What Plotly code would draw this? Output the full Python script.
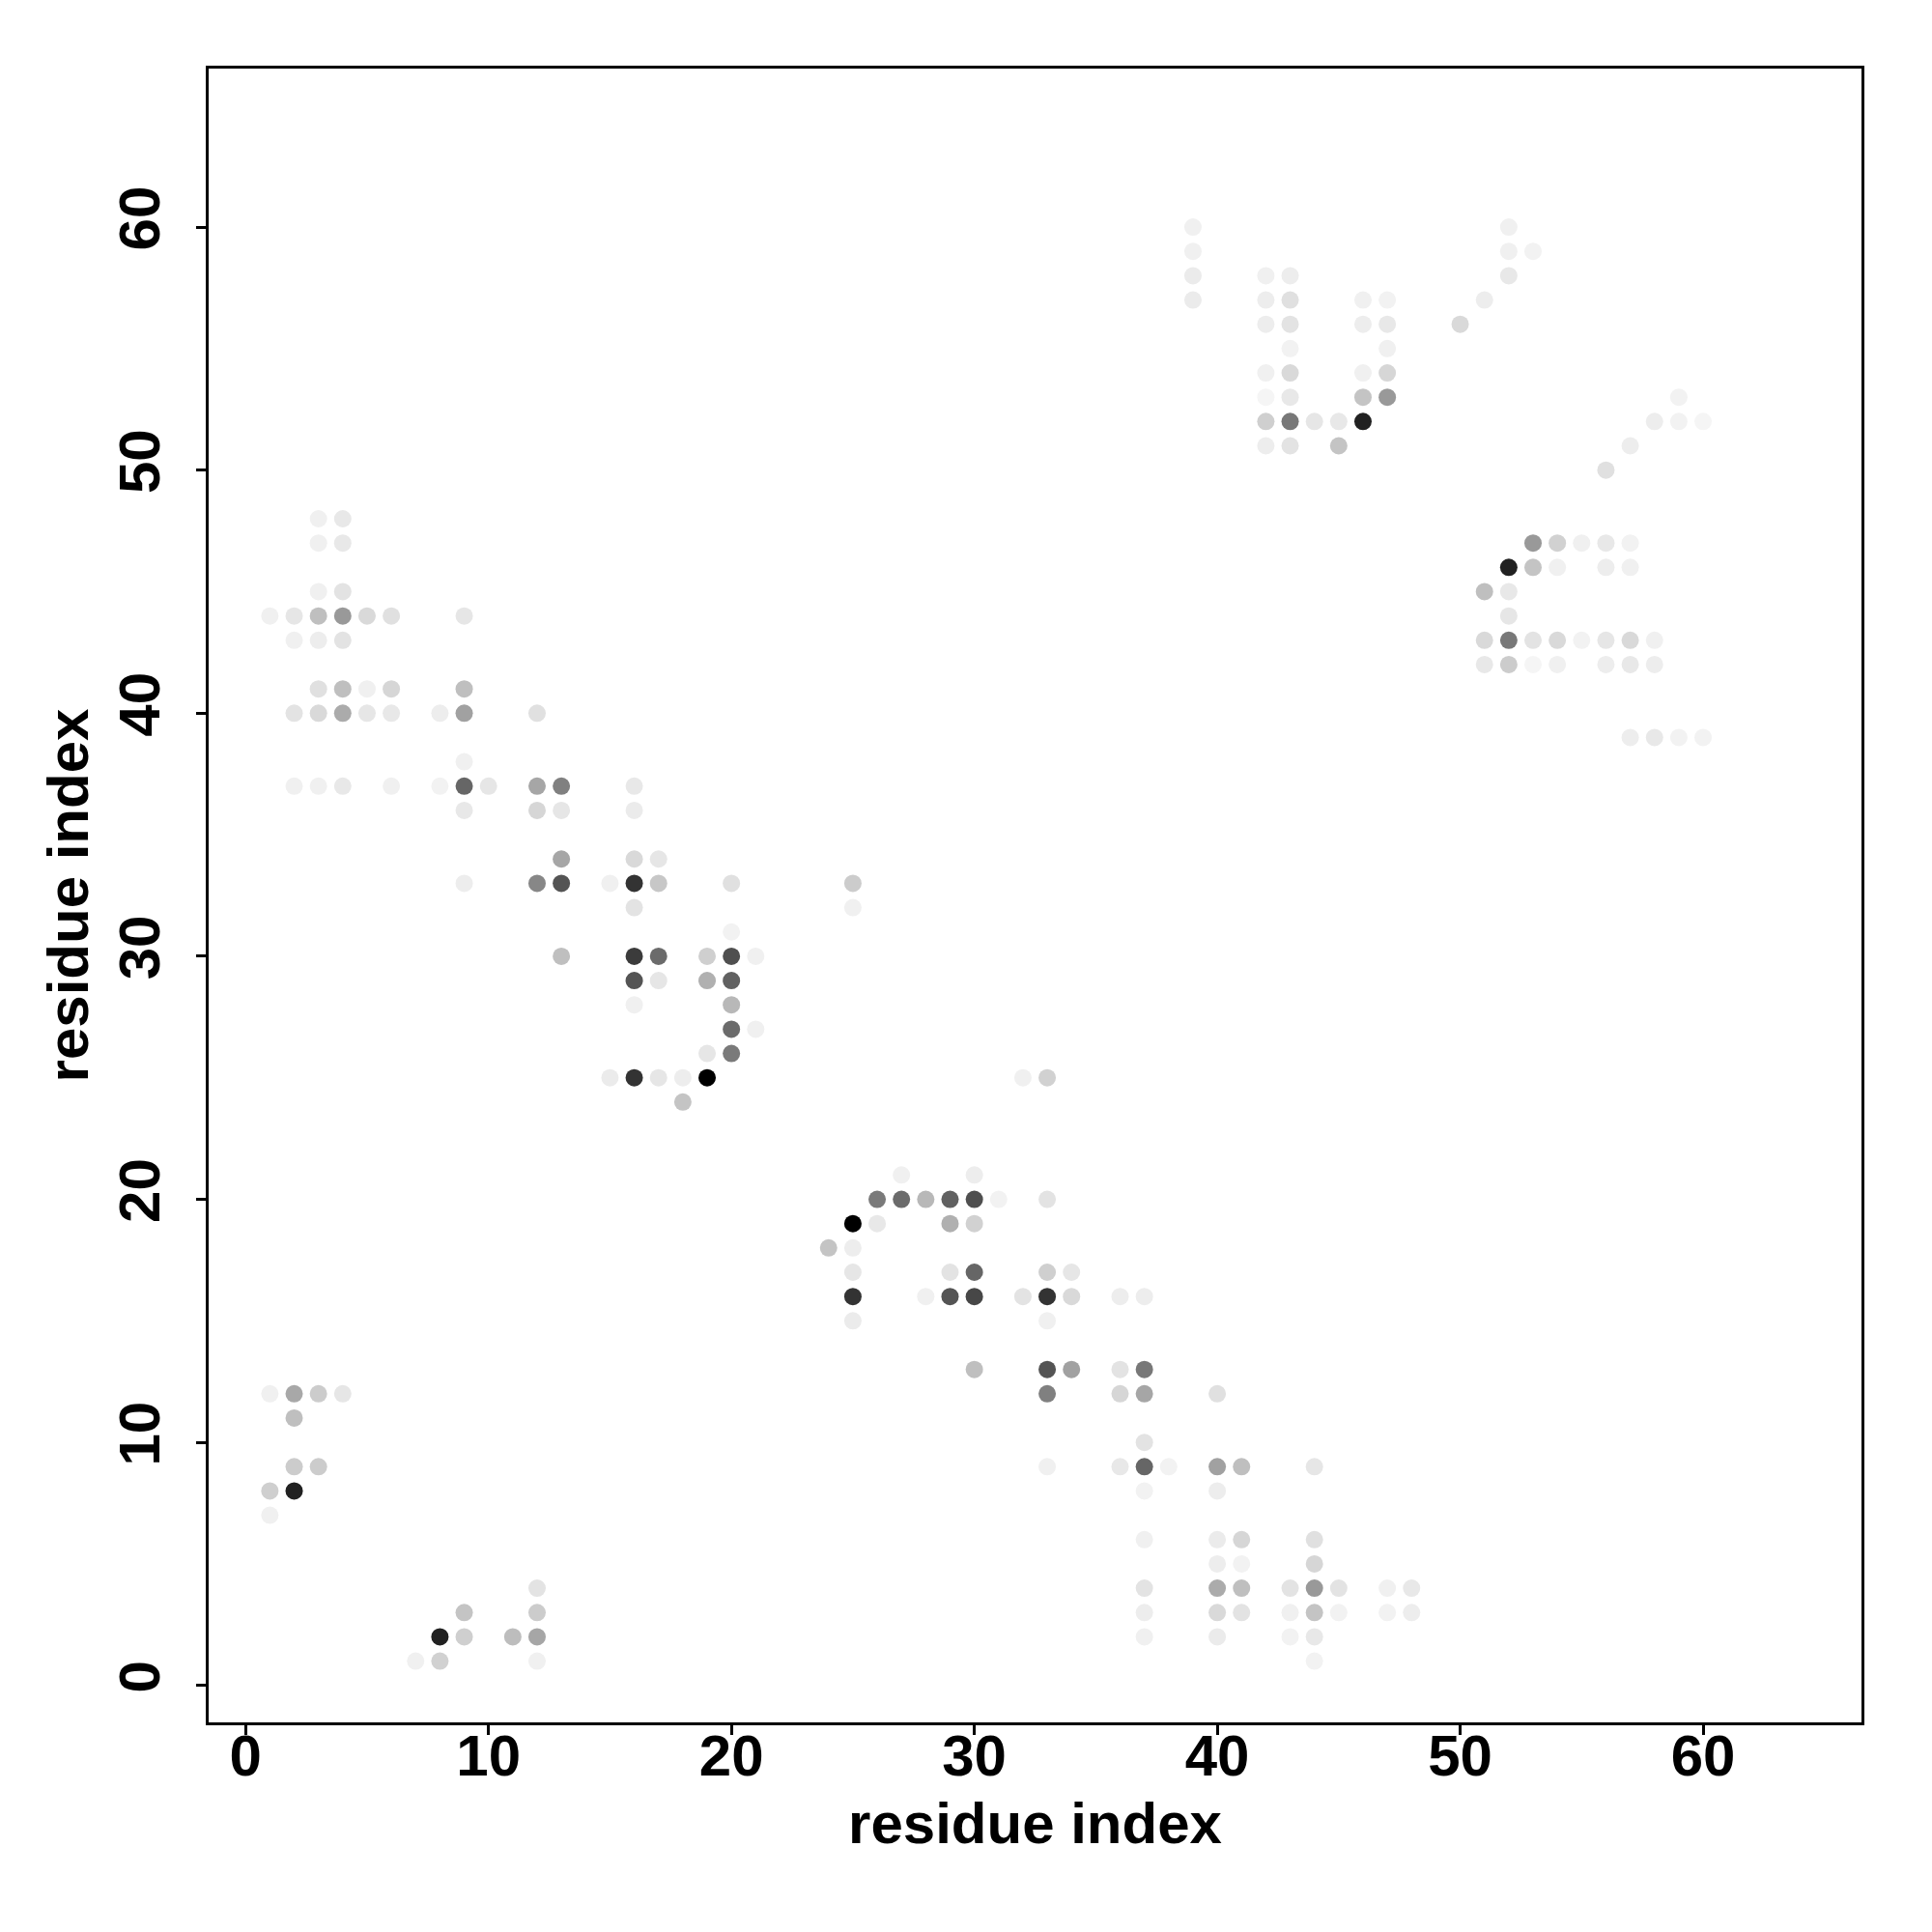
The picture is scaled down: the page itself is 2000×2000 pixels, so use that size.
import plotly.graph_objects as go

# residue pairs (i, j) and contact probability
res_i = [
    1, 2, 3, 4, 2, 2, 3, 1, 2, 1, 7, 8, 8, 9, 9, 11, 12, 12, 12, 12,
    3, 4, 3, 4, 3, 4, 1, 2, 3, 4, 5, 6, 9, 2, 3, 4,
    3, 4, 5, 6, 9, 2, 3, 4, 5, 6, 8, 9, 12, 9,
    2, 3, 4, 6, 8, 9, 10, 12, 13, 9, 12, 13, 9, 12, 13, 13, 13,
    16, 16, 16, 17, 15, 16, 17, 20, 16, 20,
    16, 17, 19, 20, 21, 16, 17, 19, 20,
    16, 20, 20, 21, 19, 20, 15, 16, 17, 18, 19, 18,
    25, 25, 32, 33,
    27, 30, 26, 27, 28, 29, 30, 31, 33, 25, 26, 29, 30, 24, 25,
    25, 29, 30, 33, 34, 25, 28, 29, 30, 32, 33, 34, 36, 37, 25, 33,
    30, 33, 34, 36, 37, 33, 36, 37, 40, 37,
    33, 36, 37, 38, 40, 41, 44,
    37, 40, 37, 40, 41, 44, 40, 41, 44,
    37, 40, 41, 43, 44, 45, 47, 48,
    37, 40, 41, 43, 44, 45, 47, 48,
    37, 40, 43, 44, 44,
    39, 39, 39, 39, 42, 43, 42, 43, 46, 47, 42, 43, 46, 47, 43, 47,
    42, 43, 46, 47, 42, 43, 46, 47, 42, 43, 44, 45, 46, 42, 43, 45,
    52, 52, 53, 52, 51, 50, 59, 58, 59, 60, 57, 56,
    53, 54, 55, 56, 57, 52, 53, 54, 56, 57, 51, 52, 52,
    51, 52, 53, 54, 55, 56, 57, 58, 51, 52, 53, 54, 56, 57, 58,
    57, 58, 59, 60,
]
res_j = [
    12, 12, 12, 12, 11, 9, 9, 8, 8, 7, 1, 1, 2, 2, 3, 2, 2, 3, 4, 1,
    48, 48, 47, 47, 45, 45, 44, 44, 44, 44, 44, 44, 44, 43, 43, 43,
    41, 41, 41, 41, 41, 40, 40, 40, 40, 40, 40, 40, 40, 38,
    37, 37, 37, 37, 37, 37, 37, 37, 37, 36, 36, 36, 33, 33, 33, 34, 30,
    37, 36, 34, 34, 33, 33, 33, 33, 32, 31,
    30, 30, 30, 30, 30, 29, 29, 29, 29,
    28, 28, 27, 27, 26, 26, 25, 25, 25, 25, 25, 24,
    33, 32, 25, 25,
    21, 21, 20, 20, 20, 20, 20, 20, 20, 19, 19, 19, 19, 18, 18,
    17, 17, 17, 17, 17, 16, 16, 16, 16, 16, 16, 16, 16, 16, 15, 15,
    13, 13, 13, 13, 13, 12, 12, 12, 12, 10,
    9, 9, 9, 9, 9, 9, 9,
    8, 8, 6, 6, 6, 6, 5, 5, 5,
    4, 4, 4, 4, 4, 4, 4, 4,
    3, 3, 3, 3, 3, 3, 3, 3,
    2, 2, 2, 2, 1,
    60, 59, 58, 57, 58, 58, 57, 57, 57, 57, 56, 56, 56, 56, 55, 55,
    54, 54, 54, 54, 53, 53, 53, 53, 52, 52, 52, 52, 52, 51, 51, 51,
    60, 59, 59, 58, 57, 56, 53, 52, 52, 52, 51, 50,
    47, 47, 47, 47, 47, 46, 46, 46, 46, 46, 45, 45, 44,
    43, 43, 43, 43, 43, 43, 43, 43, 42, 42, 42, 42, 42, 42, 42,
    39, 39, 39, 39,
]
contact_prob = [
    .06, .34, .20, .10, .25, .20, .20, .19, .87, .06, .06, .18, .87, .19, .23, .26, .35, .20, .11, .06,
    .06, .09, .06, .09, .06, .11, .06, .10, .25, .40, .15, .12, .10, .06, .07, .11,
    .12, .25, .06, .16, .25, .11, .15, .33, .10, .09, .07, .37, .12, .06,
    .06, .06, .09, .06, .05, .60, .10, .35, .50, .09, .16, .10, .07, .47, .67, .35, .25,
    .09, .08, .15, .10, .06, .80, .22, .12, .11, .05,
    .77, .58, .19, .69, .06, .67, .10, .31, .62,
    .06, .28, .58, .06, .10, .52, .08, .80, .10, .07, 1.0, .23,
    .20, .06, .06, .18,
    .06, .07, .52, .58, .28, .62, .69, .05, .11, 1.0, .09, .31, .18, .23, .07,
    .10, .11, .60, .19, .10, .80, .06, .67, .72, .11, .80, .15, .07, .07, .08, .06,
    .25, .67, .37, .11, .53, .50, .16, .35, .12, .11,
    .06, .09, .60, .05, .37, .25, .10,
    .05, .07, .06, .08, .16, .12, .07, .05, .16,
    .11, .33, .25, .11, .40, .11, .06, .09,
    .07, .15, .11, .06, .23, .05, .05, .07,
    .06, .08, .05, .09, .05,
    .06, .06, .08, .08, .06, .07, .07, .12, .06, .05, .07, .11, .07, .09, .05, .06,
    .06, .15, .06, .16, .04, .09, .23, .40, .19, .53, .10, .09, .87, .07, .11, .23,
    .06, .06, .05, .09, .07, .15, .05, .07, .05, .04, .07, .12,
    .40, .18, .06, .09, .05, .87, .23, .06, .07, .06, .25, .09, .10,
    .15, .53, .11, .15, .05, .10, .15, .06, .09, .20, .04, .06, .07, .09, .07,
    .07, .09, .05, .05,
]

tick_vals = [0, 10, 20, 30, 40, 50, 60]
axis_range = [-1.52, 66.52]
axis_title = "residue index"

FONT = "Liberation Sans, Arial, Helvetica, sans-serif"

fig = go.Figure(
    go.Scatter(
        x=res_i,
        y=res_j,
        mode="markers",
        marker=dict(
            size=18,
            color=contact_prob,
            colorscale=[[0, "#ffffff"], [1, "#000000"]],
            cmin=0,
            cmax=1,
            line=dict(width=0),
            showscale=False,
        ),
        hoverinfo="x+y",
    )
)

axis_common = dict(
    range=axis_range,
    tickmode="array",
    tickvals=tick_vals,
    ticks="outside",
    ticklen=10,
    tickwidth=3,
    tickcolor="black",
    showline=True,
    linecolor="black",
    linewidth=3,
    mirror=True,
    showgrid=False,
    zeroline=False,
    automargin=False,
    tickfont=dict(family=FONT, size=60, color="black", weight="bold"),
)

fig.update_xaxes(
    **axis_common,
    ticklabelstandoff=-30,
    title=dict(text=axis_title, font=dict(family=FONT, size=60, color="black", weight="bold"), standoff=16),
)
fig.update_yaxes(
    **axis_common,
    tickangle=-90,
    ticklabelstandoff=14,
    title=dict(text=axis_title, font=dict(family=FONT, size=60, color="black", weight="bold"), standoff=1),
)

fig.update_layout(
    width=2000,
    height=2000,
    autosize=False,
    margin=dict(l=208, r=81, t=63, b=225),
    plot_bgcolor="white",
    paper_bgcolor="white",
    showlegend=False,
)

fig.write_html("out.html")
